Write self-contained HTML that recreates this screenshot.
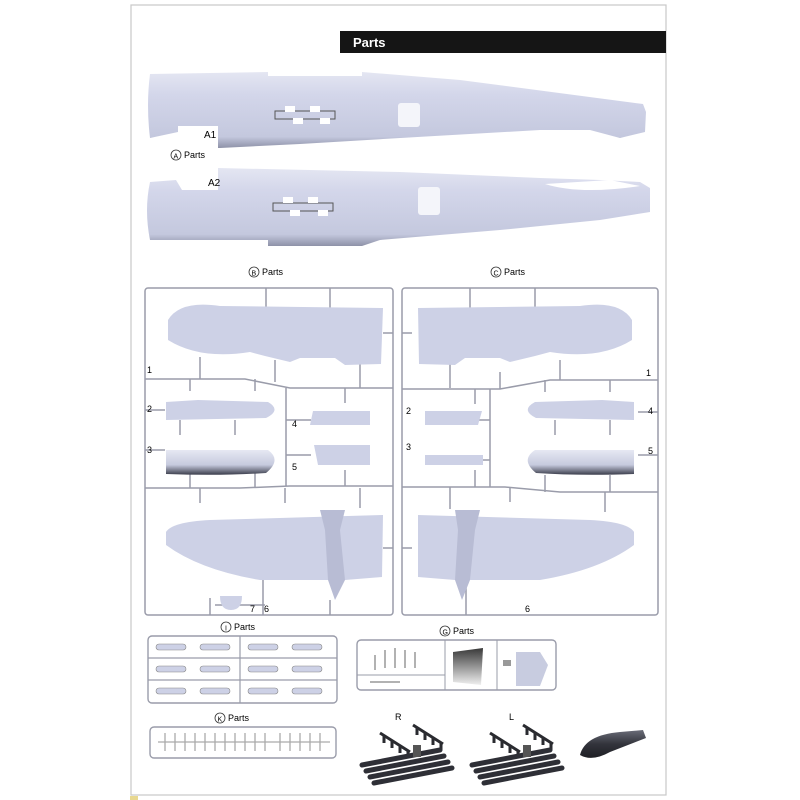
<!DOCTYPE html>
<html><head><meta charset="utf-8"><style>
html,body{margin:0;padding:0;background:#fff;width:800px;height:800px;overflow:hidden}
svg{display:block}
text{font-family:"Liberation Sans",sans-serif}
</style></head><body>
<svg width="800" height="800" viewBox="0 0 800 800" xmlns="http://www.w3.org/2000/svg">
<defs>
<linearGradient id="fus" x1="0" y1="0" x2="0" y2="1">
<stop offset="0" stop-color="#e4e6f2"/><stop offset="0.3" stop-color="#d3d6ea"/><stop offset="0.85" stop-color="#c4c8de"/><stop offset="1" stop-color="#8e92a8"/></linearGradient>
<linearGradient id="nac" x1="0" y1="0" x2="0" y2="1">
<stop offset="0" stop-color="#e6e8f3"/><stop offset="0.6" stop-color="#c6cade"/><stop offset="1" stop-color="#3a3c4a"/></linearGradient>
<linearGradient id="dark" x1="0" y1="0" x2="0" y2="1">
<stop offset="0" stop-color="#6a6c78"/><stop offset="0.5" stop-color="#33343c"/><stop offset="1" stop-color="#1e1f24"/></linearGradient>
<linearGradient id="gd" x1="0" y1="0" x2="0" y2="1">
<stop offset="0" stop-color="#222"/><stop offset="0.5" stop-color="#888"/><stop offset="1" stop-color="#eee"/></linearGradient>
</defs>
<rect x="131" y="5" width="535" height="790" fill="none" stroke="#c8c8c8" stroke-width="1.2"/>
<rect x="340" y="31" width="326" height="22" fill="#151515"/>
<text x="353" y="47" fill="#fff" font-weight="bold" font-size="13" font-family="Liberation Serif,serif">Parts</text>

<!-- Fuselage A1 -->
<path d="M150 74 L268 72 L268 76 L362 76 L362 72 L460 80 L643 104 L646 112 L645 132 L620 138 L590 130 L540 130 L400 138 L300 144 L220 148 L212 148 L212 126 L182 126 L178 132 L150 138 Q146 105 150 74Z" fill="url(#fus)"/>
<rect x="178" y="126" width="40" height="24" fill="#fff"/>
<path d="M275 111 h60 v8 h-60z" fill="none" stroke="#555" stroke-width="1"/>
<rect x="285" y="106" width="10" height="6" fill="#fff"/><rect x="310" y="106" width="10" height="6" fill="#fff"/>
<rect x="293" y="118" width="10" height="6" fill="#fff"/><rect x="320" y="118" width="10" height="6" fill="#fff"/>
<rect x="398" y="103" width="22" height="24" rx="3" fill="#f4f5fa"/>
<text x="204" y="138" font-size="10">A1</text>
<circle cx="176" cy="155" r="5" fill="none" stroke="#333" stroke-width="0.8"/><text x="173.5" y="158.5" font-size="7">A</text>
<text x="184" y="158" font-size="9">Parts</text>

<!-- Fuselage A2 -->
<path d="M150 182 L176 180 L182 190 L218 190 L218 168 L400 172 L540 178 L600 180 L640 182 L650 188 L650 212 L600 220 L500 230 L380 240 L362 246 L268 246 L268 240 L150 240 Q144 210 150 182Z" fill="url(#fus)"/>
<path d="M545 184 Q580 195 640 186 L610 180Z" fill="#fff"/>
<text x="208" y="186" font-size="10">A2</text>
<path d="M273 203 h60 v8 h-60z" fill="none" stroke="#555" stroke-width="1"/>
<rect x="283" y="197" width="10" height="6" fill="#fff"/><rect x="308" y="197" width="10" height="6" fill="#fff"/>
<rect x="290" y="210" width="10" height="6" fill="#fff"/><rect x="318" y="210" width="10" height="6" fill="#fff"/>
<rect x="418" y="187" width="22" height="28" rx="3" fill="#f4f5fa"/>

<circle cx="254" cy="272" r="5" fill="none" stroke="#333" stroke-width="0.8"/><text x="251.5" y="275.5" font-size="7">B</text><text x="262" y="275" font-size="9">Parts</text>
<circle cx="496" cy="272" r="5" fill="none" stroke="#333" stroke-width="0.8"/><text x="493.5" y="275.5" font-size="7">C</text><text x="504" y="275" font-size="9">Parts</text>

<g fill="none" stroke="#9a9caa" stroke-width="1.5">
<rect x="145" y="288" width="248" height="327" rx="3"/>
<path d="M145 379 H245 L290 388 H393 M145 488 H240 L290 486 H393 M286 388 V486"/>
<path d="M266 288 v20 M330 288 v20 M200 357 v22 M275 360 v22 M360 360 v28 M190 379 v12 M255 379 v12 M180 420 v15 M235 420 v15 M190 470 v18 M255 470 v18 M345 388 v15 M345 470 v16 M200 488 v15 M285 488 v15 M360 488 v20 M263 570 v45 M330 600 v15 M210 598 v17 M383 333 h10 M383 548 h10 M145 410 h20 M145 450 h20 M286 420 h25 M286 455 h25 M215 605 h50"/>
<rect x="402" y="288" width="256" height="327" rx="3"/>
<path d="M402 389 H500 L550 380 H658 M402 487 H505 L560 492 H658 M490 389 V487"/>
<path d="M470 288 v20 M535 288 v20 M560 360 v20 M450 358 v30 M500 372 v17 M475 389 v15 M545 380 v12 M610 380 v12 M555 420 v15 M610 420 v15 M545 475 v17 M610 475 v17 M475 470 v17 M450 487 v22 M510 487 v15 M605 492 v20 M466 570 v45 M402 333 h10 M402 548 h10 M638 412 h20 M638 455 h20 M465 420 h25 M465 460 h25"/>
</g>

<g fill="#cdd1e6">
<path d="M168 320 Q180 300 220 306 L383 308 L381 364 L345 365 L335 358 L300 358 L290 362 L265 356 L250 352 Q200 360 168 340Z"/>
<path d="M166 402 L198 400 L268 402 Q282 410 266 418 L166 420Z"/>
<path d="M166 450 L268 450 Q282 460 266 473 Q220 476 166 474Z" fill="url(#nac)"/>
<path d="M313 411 L370 411 L370 425 L310 425Z"/><path d="M314 445 L370 445 L370 465 L318 465Z"/>
<path d="M166 532 Q172 522 210 520 L383 515 L382 577 L345 580 L260 580 Q200 570 166 545Z"/>
<path d="M320 510 L345 510 L340 530 L345 580 L335 600 L328 580 L325 530Z" fill="#b8bcd4"/>
<path d="M220 596 h22 q0 14 -11 14 q-11 0 -11 -14z"/>
<path d="M632 320 Q620 300 580 306 L418 308 L419 364 L455 365 L465 358 L500 358 L510 362 L535 356 L550 352 Q600 360 632 340Z"/>
<path d="M634 402 L602 400 L535 402 Q520 410 536 418 L634 420Z"/>
<path d="M634 450 L535 450 Q520 460 536 473 Q580 476 634 474Z" fill="url(#nac)"/>
<path d="M425 411 L482 411 L478 425 L425 425Z"/><path d="M425 455 L483 455 L483 465 L425 465Z"/>
<path d="M634 532 Q628 522 590 520 L418 515 L418 577 L455 580 L540 580 Q600 570 634 545Z"/>
<path d="M455 510 L480 510 L475 530 L470 580 L462 600 L455 580 L458 530Z" fill="#b8bcd4"/>
</g>
<g font-size="9">
<text x="147" y="373">1</text><text x="147" y="412">2</text><text x="147" y="453">3</text><text x="292" y="427">4</text><text x="292" y="470">5</text><text x="250" y="612">7</text><text x="264" y="612">6</text>
<text x="646" y="376">1</text><text x="406" y="414">2</text><text x="406" y="450">3</text><text x="648" y="414">4</text><text x="648" y="454">5</text><text x="525" y="612">6</text>
</g>

<circle cx="226" cy="627" r="5" fill="none" stroke="#333" stroke-width="0.8"/><text x="225" y="630.5" font-size="7">I</text><text x="234" y="630" font-size="9">Parts</text>
<rect x="148" y="636" width="189" height="67" rx="4" fill="none" stroke="#9a9caa" stroke-width="1.4"/>
<path d="M148 658 H337 M148 680 H337 M240 636 V703" stroke="#9a9caa" stroke-width="1.2"/>
<g fill="#cdd1e6" stroke="#888" stroke-width="0.6">
<rect x="156" y="644" width="30" height="6" rx="3"/><rect x="200" y="644" width="30" height="6" rx="3"/><rect x="248" y="644" width="30" height="6" rx="3"/><rect x="292" y="644" width="30" height="6" rx="3"/>
<rect x="156" y="666" width="30" height="6" rx="3"/><rect x="200" y="666" width="30" height="6" rx="3"/><rect x="248" y="666" width="30" height="6" rx="3"/><rect x="292" y="666" width="30" height="6" rx="3"/>
<rect x="156" y="688" width="30" height="6" rx="3"/><rect x="200" y="688" width="30" height="6" rx="3"/><rect x="248" y="688" width="30" height="6" rx="3"/><rect x="292" y="688" width="30" height="6" rx="3"/>
</g>

<circle cx="445" cy="631" r="5" fill="none" stroke="#333" stroke-width="0.8"/><text x="442.5" y="634.5" font-size="7">G</text><text x="453" y="634" font-size="9">Parts</text>
<rect x="357" y="640" width="199" height="50" rx="4" fill="none" stroke="#9a9caa" stroke-width="1.4"/>
<path d="M445 640 V690 M497 640 V690 M357 675 H445" stroke="#9a9caa" stroke-width="1"/>
<path d="M375 655 v15 M385 650 v18 M395 648 v20 M405 650 v18 M415 652 v16 M370 682 h30" stroke="#999" stroke-width="1.5"/>
<path d="M453 652 L483 648 L481 685 L453 682 Z" fill="url(#gd)" opacity="0.9"/>
<path d="M516 652 L540 652 L548 665 L540 686 L516 686Z" fill="#c8cce0"/>
<path d="M503 660 h8 v6 h-8z" fill="#999"/>

<circle cx="220" cy="718" r="5" fill="none" stroke="#333" stroke-width="0.8"/><text x="217.5" y="721.5" font-size="7">K</text><text x="228" y="721" font-size="9">Parts</text>
<rect x="150" y="727" width="186" height="31" rx="4" fill="none" stroke="#9a9caa" stroke-width="1.4"/>
<path d="M158 742 H330 M165 733 v18 M175 733 v18 M185 733 v18 M195 733 v18 M205 733 v18 M215 733 v18 M225 733 v18 M235 733 v18 M245 733 v18 M255 733 v18 M265 733 v18 M280 733 v18 M290 733 v18 M300 733 v18 M310 733 v18 M320 733 v18" stroke="#aaa" stroke-width="1.3"/>

<text x="395" y="720" font-size="9">R</text><text x="509" y="720" font-size="9">L</text>
<g stroke="#2a2b30" stroke-width="3" fill="none">
<path d="M380 733 L410 752 M384 735 v8 M392 740 v8 M400 745 v8 M408 750 v8"/>
<path d="M413 725 L443 744 M417 727 v8 M425 732 v8 M433 737 v8 M441 742 v8"/>
<path d="M490 733 L520 752 M494 735 v8 M502 740 v8 M510 745 v8 M518 750 v8"/>
<path d="M523 725 L553 744 M527 727 v8 M535 732 v8 M543 737 v8 M551 742 v8"/>
</g>
<g stroke="#2e2f36" stroke-width="5" stroke-linecap="round">
<path d="M362 765 L440 750 M366 771 L444 756 M370 777 L448 762 M374 783 L452 768"/>
<path d="M472 765 L550 750 M476 771 L554 756 M480 777 L558 762 M484 783 L562 768"/>
</g>
<rect x="413" y="745" width="8" height="12" fill="#555"/><rect x="523" y="745" width="8" height="12" fill="#555"/>
<path d="M580 755 Q585 735 620 732 L643 730 L646 738 L610 752 Q592 762 580 755Z" fill="url(#dark)"/>
<rect x="130" y="796" width="8" height="4" fill="#e8d890"/>
</svg>
</body></html>
